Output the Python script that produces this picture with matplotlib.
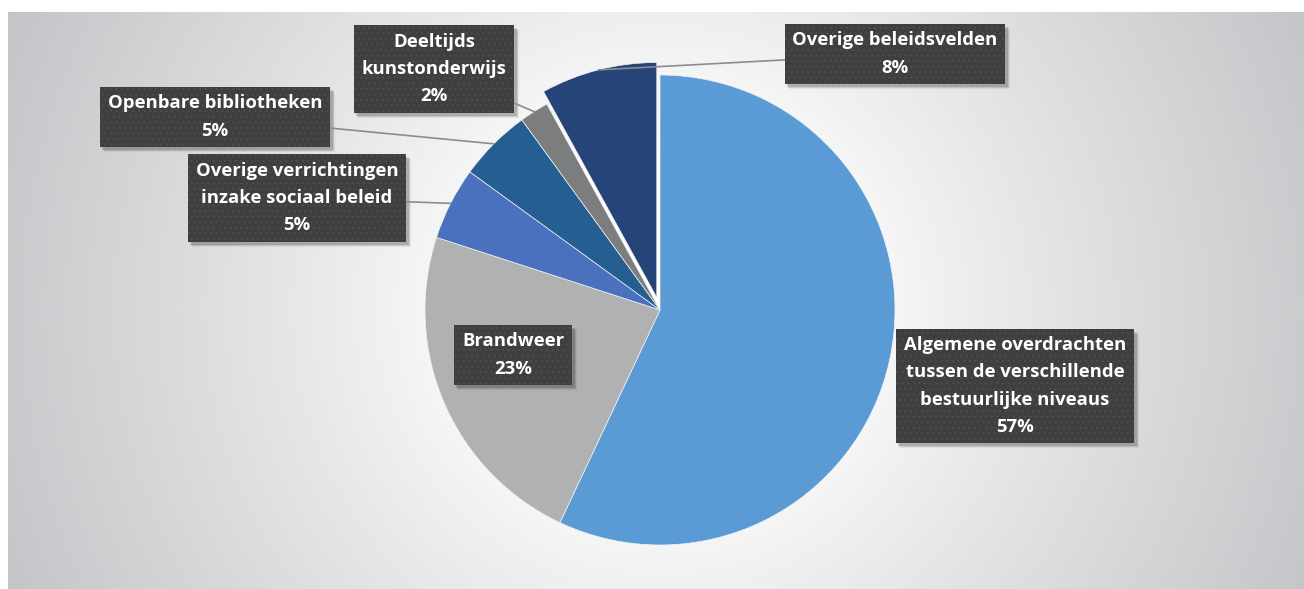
import numpy as np
import matplotlib.pyplot as plt
from matplotlib.patches import Rectangle

# budget shares per policy field (%)
labels = ['Algemene overdrachten\ntussen de verschillende\nbestuurlijke niveaus',
          'Brandweer',
          'Overige verrichtingen\ninzake sociaal beleid',
          'Openbare bibliotheken',
          'Deeltijds\nkunstonderwijs',
          'Overige beleidsvelden']
shares = [57, 23, 5, 5, 2, 8]
colors = ['#5B9BD5', '#B0B1B3', '#4A71BE', '#255E91', '#7C7D7F', '#264478']

W, H = 1304, 589
plt.rcParams['hatch.linewidth'] = 0.6
fig = plt.figure(figsize=(W / 100, H / 100), dpi=100, facecolor='white')
ax = fig.add_axes([0, 0, 1, 1])

cx, cy, R = 660, H - 310, 235

# radial grey background behind the pie
gx, gy = np.meshgrid(np.arange(8, W), np.arange(0, H - 12))
d = np.hypot(gx - cx, gy - cy)
t = np.clip((d - 160) / 560, 0, 1) ** 0.9
bg = np.empty(d.shape + (3,))
for i, (c0, c1) in enumerate(zip([1.0, 1.0, 1.0], [0.765, 0.769, 0.78])):
    bg[..., i] = c0 * (1 - t) + c1 * t
ax.imshow(bg, extent=(8, W, 0, H - 12), origin='lower', zorder=0, aspect='auto')

explode = [0, 0, 0, 0, 0, 0.055 * R]
wedges, _ = ax.pie(shares, colors=colors, startangle=90, counterclock=False,
                   center=(cx, cy), radius=R, explode=explode,
                   wedgeprops=dict(edgecolor='#F2F2F2', linewidth=0.5))
for w in wedges:
    w.set_zorder(2)

ax.set_xlim(0, W)
ax.set_ylim(0, H)
ax.set_aspect('auto')
ax.axis('off')

# label box centres in pixels from the top-left corner
label_pos = [(1015, 386), (513, 355), (297, 198), (215, 117), (434, 69), (895, 54)]
leader = [False, False, True, True, True, True]

font = dict(family=['Open Sans', 'DejaVu Sans'], weight='bold', size=13.3,
            ha='center', va='center', linespacing=1.65, color='white', zorder=4)
box = dict(boxstyle='square,pad=0.42', facecolor='#3F3F41', edgecolor='#505052',
           linewidth=0, hatch='...')

texts = []
for w, lab, s, (px, py), lead in zip(wedges, labels, shares, label_pos, leader):
    txt = f'{lab}\n{s}%'
    x, y = px, H - py
    if lead:
        mid = np.deg2rad((w.theta1 + w.theta2) / 2)
        ex, ey = w.center[0] + w.r * np.cos(mid), w.center[1] + w.r * np.sin(mid)
        t = ax.annotate(txt, xy=(ex, ey), xytext=(x, y), bbox=box,
                        arrowprops=dict(arrowstyle='-', color='#8C8C8C',
                                        lw=1.2, shrinkA=0, shrinkB=0),
                        **font)
    else:
        t = ax.text(x, y, txt, bbox=box, **font)
    texts.append(t)

# soft drop shadow under each label box
fig.canvas.draw()
inv = ax.transData.inverted()
for t in texts:
    bb = t.get_bbox_patch().get_window_extent()
    (x0, y0), (x1, y1) = inv.transform([[bb.x0, bb.y0], [bb.x1, bb.y1]])
    for k, a in [(5, 0.06), (4, 0.1), (3, 0.14)]:
        ax.add_patch(Rectangle((x0 + k - 1, y0 - k), x1 - x0 + 1, y1 - y0,
                               facecolor='black', alpha=a, linewidth=0, zorder=3))

fig.savefig('out.png', dpi=100, facecolor='white')
